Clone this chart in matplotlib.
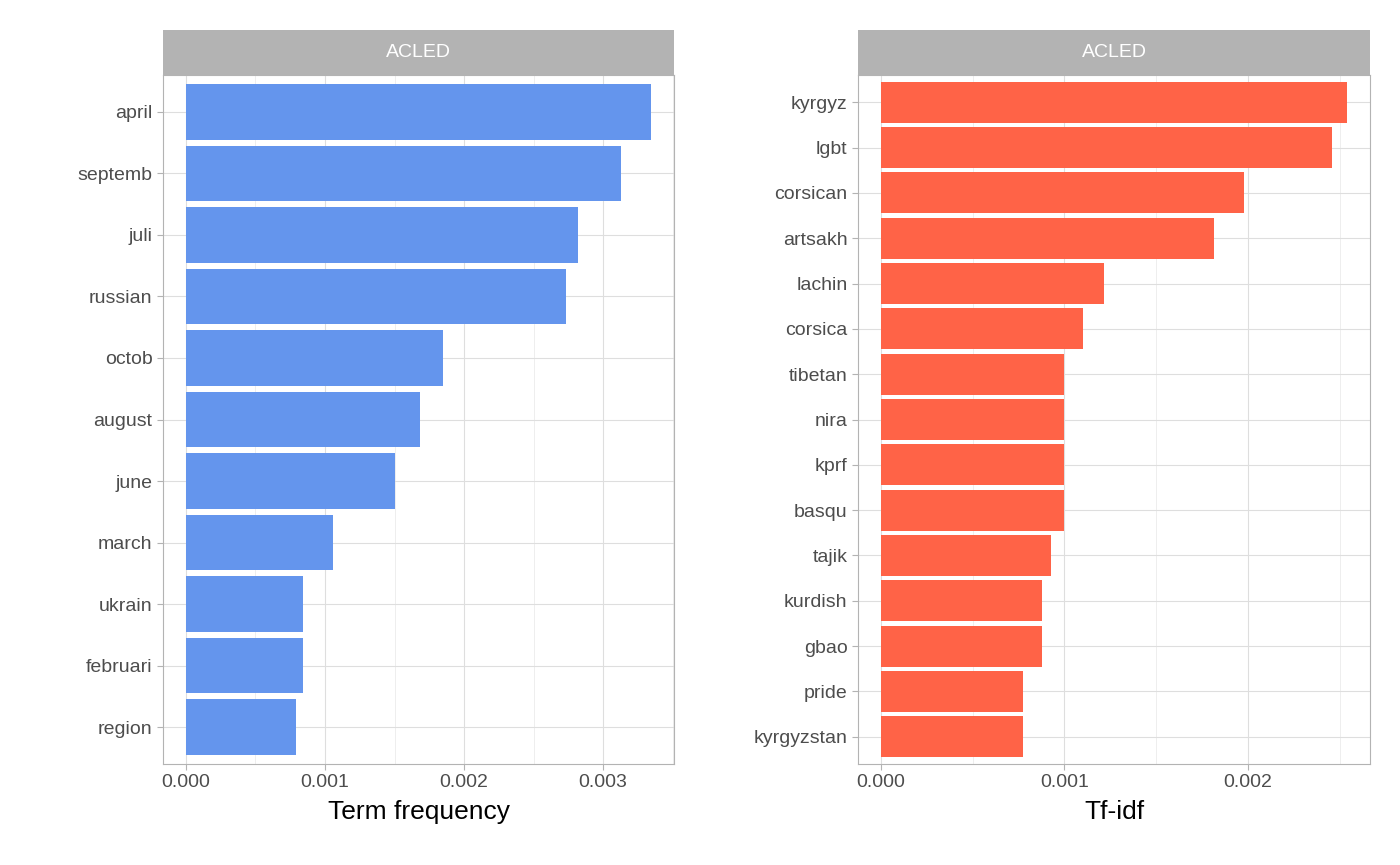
import matplotlib
matplotlib.use("Agg")
import matplotlib.pyplot as plt
from matplotlib.ticker import MultipleLocator, FormatStrFormatter

tf_terms = ["april", "septemb", "juli", "russian", "octob", "august", "june",
            "march", "ukrain", "februari", "region"]
tf_vals = [0.003345, 0.00313, 0.00282, 0.00273, 0.00185, 0.00168, 0.00150,
           0.00106, 0.00084, 0.00084, 0.00079]

idf_terms = ["kyrgyz", "lgbt", "corsican", "artsakh", "lachin", "corsica", "tibetan",
             "nira", "kprf", "basqu", "tajik", "kurdish", "gbao", "pride", "kyrgyzstan"]
idf_vals = [0.00254, 0.00246, 0.00198, 0.001815, 0.001215, 0.00110, 0.00100,
            0.00100, 0.00100, 0.00100, 0.000925, 0.00088, 0.00088, 0.000775, 0.000775]

fig = plt.figure(figsize=(14, 8.65), dpi=100)
plt.rcParams['font.family'] = ['Liberation Sans', 'DejaVu Sans']

def panel(rect, terms, vals, color, xlim, xlabel):
    ax = fig.add_axes(rect)
    n = len(terms)
    ypos = list(range(n))[::-1]
    ax.barh(ypos, vals, height=0.9, color=color, zorder=2)
    ax.set_yticks(ypos)
    ax.set_yticklabels(terms)
    ax.set_ylim(-0.6, n - 0.4)
    ax.set_xlim(*xlim)
    ax.xaxis.set_major_locator(MultipleLocator(0.001))
    ax.xaxis.set_minor_locator(MultipleLocator(0.0005))
    ax.xaxis.set_major_formatter(FormatStrFormatter('%.3f'))
    ax.grid(True, which='major', color='#DEDEDE', lw=0.8, zorder=0)
    ax.grid(True, which='minor', axis='x', color='#EBEBEB', lw=0.6, zorder=0)
    ax.tick_params(which='both', length=4, color='#B3B3B3', labelsize=14, labelcolor='#4D4D4D')
    ax.tick_params(which='minor', length=0)
    for s in ax.spines.values():
        s.set_color('#B3B3B3')
    ax.set_xlabel(xlabel, fontsize=19, color='black', labelpad=6)
    # facet strip
    x0, y0, w, h = rect
    strip = fig.add_axes([x0, y0 + h, w, 45 / 865])
    strip.set_facecolor('#B3B3B3')
    strip.set_xticks([]); strip.set_yticks([])
    for s in strip.spines.values():
        s.set_visible(False)
    strip.text(0.5, 0.5, "ACLED", color='white', fontsize=14, ha='center', va='center',
               transform=strip.transAxes)
    return ax

panel([163 / 1400, 1 - 764 / 865, 511 / 1400, 689 / 865], tf_terms, tf_vals,
      '#6495ED', (-0.000165, 0.00351), "Term frequency")
panel([858 / 1400, 1 - 764 / 865, 512 / 1400, 689 / 865], idf_terms, idf_vals,
      '#FF6347', (-0.000125, 0.002665), "Tf-idf")

fig.savefig("out.png", dpi=100)
